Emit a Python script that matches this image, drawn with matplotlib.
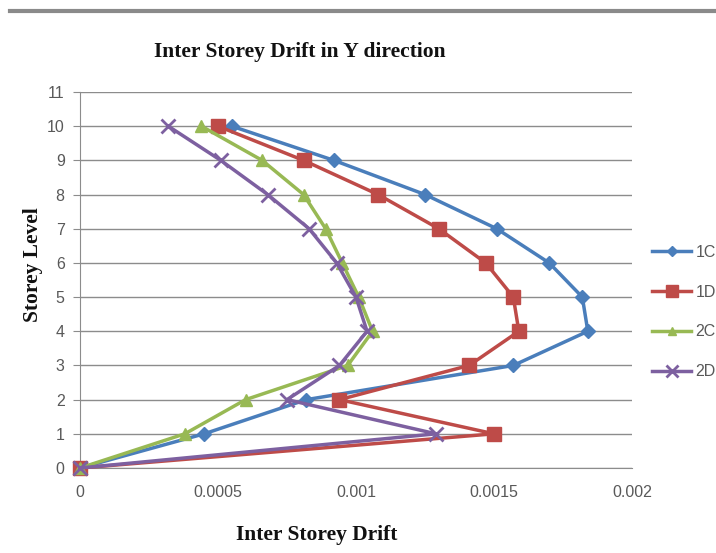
import numpy as np
import matplotlib
matplotlib.use('Agg')
import matplotlib.pyplot as plt
from matplotlib.lines import Line2D

# storey levels and drift values
levels = [0, 1, 2, 3, 4, 5, 6, 7, 8, 9, 10]
drift_1c = [0, 0.00045, 0.00082, 0.00157, 0.00184, 0.00182, 0.0017, 0.00151, 0.00125, 0.00092, 0.00055]
drift_1d = [0, 0.0015, 0.00094, 0.00141, 0.00159, 0.00157, 0.00147, 0.0013, 0.00108, 0.00081, 0.0005]
drift_2c = [0, 0.00038, 0.0006, 0.00097, 0.00106, 0.00101, 0.00095, 0.00089, 0.00081, 0.00066, 0.00044]
drift_2d = [0, 0.00129, 0.00075, 0.00094, 0.00104, 0.001, 0.00093, 0.00083, 0.00068, 0.00051, 0.00032]

series_names = ['1C', '1D', '2C', '2D']
series_colors = ['#4A7EBB', '#BE4B48', '#98B954', '#7D60A0']
series_markers = ['D', 's', '^', 'x']
marker_sizes = [7, 10, 8, 10]

x_ticks = [0, 0.0005, 0.001, 0.0015, 0.002]
x_tick_labels = ['0', '0.0005', '0.001', '0.0015', '0.002']
y_ticks = list(range(0, 12))

fig = plt.figure(figsize=(7.16, 5.53), dpi=100)
ax = fig.add_axes([80 / 716, 1 - 468 / 553, (632 - 80) / 716, (468 - 92) / 553])

all_drifts = [drift_1c, drift_1d, drift_2c, drift_2d]
handles = []
for d, name, c, m, ms in zip(all_drifts, series_names, series_colors, series_markers, marker_sizes):
    mew = 2 if m == 'x' else 1
    ln, = ax.plot(d, levels, color=c, lw=2.5, marker=m, ms=ms, mec=c, mfc=c,
                  mew=mew, label=name, zorder=3, clip_on=False)
    handles.append(ln)

ax.set_xlim(0, 0.002)
ax.set_ylim(0, 11)
ax.set_xticks(x_ticks)
ax.set_xticklabels(x_tick_labels)
ax.set_yticks(y_ticks)

ax.yaxis.grid(True, color='#8C8C8C', lw=1)
ax.set_axisbelow(True)
for s in ['top', 'right']:
    ax.spines[s].set_visible(False)
ax.spines['left'].set_color('#8C8C8C')
ax.spines['bottom'].set_color('#8C8C8C')
ax.tick_params(axis='y', length=5, color='#8C8C8C', labelcolor='#595959', labelsize=11.5, pad=6)
ax.tick_params(axis='x', length=0, labelcolor='#595959', labelsize=11.5, pad=12)
for lab in ax.get_xticklabels() + ax.get_yticklabels():
    lab.set_family('Liberation Sans')

serif = dict(family='Liberation Serif', weight='bold', color='#111111')
fig.text(300 / 716, 1 - 52 / 553, 'Inter Storey Drift in Y direction', ha='center', va='center', fontsize=15.5, **serif)
fig.text(317 / 716, 1 - 535 / 553, 'Inter Storey Drift', ha='center', va='center', fontsize=15.5, **serif)
fig.text(33 / 716, 1 - 265 / 553, 'Storey Level', ha='center', va='center', rotation=90, fontsize=15.5, **serif)

leg = fig.legend(handles=handles, loc='center left', bbox_to_anchor=(638 / 716, 1 - 312 / 553),
                 frameon=False, handlelength=2.4, labelspacing=1.55, handletextpad=0.3,
                 markerscale=0.8, prop={'family': 'Liberation Sans', 'size': 11.5})
for t in leg.get_texts():
    t.set_color('#595959')

# grey rule at top of the page
fig.add_artist(Line2D([10 / 716, 1], [1 - 11 / 553, 1 - 11 / 553], color='#8A8A8A', lw=3))

fig.savefig('out.png', dpi=100)
